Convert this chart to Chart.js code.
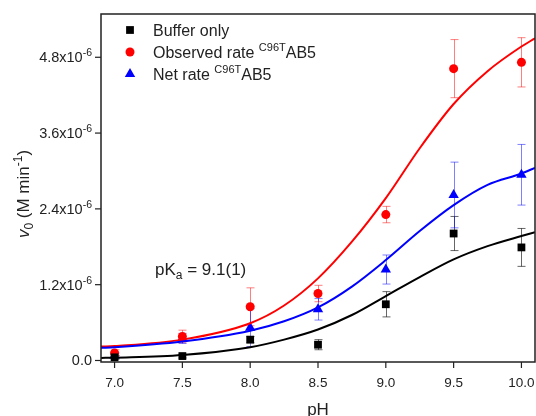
<!DOCTYPE html>
<html>
<head>
<meta charset="utf-8">
<script src="https://cdn.jsdelivr.net/npm/chart.js@4.4.1/dist/chart.umd.min.js"></script>
<style>
  html, body { margin: 0; padding: 0; background: #fff; }
  canvas { display: block; }
</style>
</head>
<body>
<canvas id="chart" width="536" height="416"></canvas>
<script>
// measured points (rates in units of 1e-6 M min^-1)
const phPoints = [7.0, 7.5, 8.0, 8.5, 9.0, 9.5, 10.0];
const bufferRate = [0.05, 0.07, 0.33, 0.25, 0.89, 2.01, 1.79];
const bufferErr = [0.03, 0.03, 0.05, 0.08, 0.20, 0.27, 0.30];
const observedRate = [0.12, 0.38, 0.85, 1.06, 2.31, 4.62, 4.72];
const observedErr = [0.05, 0.10, 0.30, 0.13, 0.13, 0.46, 0.39];
const netRate = [0.08, 0.35, 0.52, 0.81, 1.44, 2.62, 2.94];
const netErr = [0.04, 0.08, 0.30, 0.17, 0.23, 0.52, 0.48];

// fitted curves
const fitPh = [6.9, 7.0, 7.5, 8.0, 8.25, 8.5, 8.75, 9.0, 9.25, 9.5, 9.75, 10.0, 10.1];
const bufferFit = [0.04, 0.045, 0.087, 0.21, 0.33, 0.49, 0.72, 1.02, 1.32, 1.60, 1.81, 1.97, 2.03];
const observedFit = [0.22, 0.23, 0.33, 0.59, 0.87, 1.30, 1.88, 2.57, 3.36, 4.06, 4.58, 4.97, 5.10];
const netFit = [0.20, 0.21, 0.30, 0.47, 0.62, 0.84, 1.17, 1.59, 2.05, 2.46, 2.78, 2.96, 3.05];

// axis ticks
const xTicks = [7.0, 7.5, 8.0, 8.5, 9.0, 9.5, 10.0];
const xTickLabels = ['7.0', '7.5', '8.0', '8.5', '9.0', '9.5', '10.0'];
const yTicks = [0, 1.2, 2.4, 3.6, 4.8];
const yTickLabels = ['0.0', '1.2x10', '2.4x10', '3.6x10', '4.8x10'];

const FAMILY = 'Arial, "Liberation Sans", sans-serif';
const font = (size, style) => `${style || ''} ${size}px ${FAMILY}`;

const toXY = (xs, ys) => xs.map((x, i) => ({ x: x, y: ys[i] }));

// draws text made of pieces: [text, size, dy, style]
function drawRich(ctx, parts, x, y, align) {
    let total = 0;
    parts.forEach(p => { ctx.font = font(p[1], p[3]); total += ctx.measureText(p[0]).width; });
    let cx = x;
    if (align === 'right') cx = x - total;
    if (align === 'center') cx = x - total / 2;
    ctx.textAlign = 'left';
    ctx.textBaseline = 'alphabetic';
    parts.forEach(p => {
        ctx.font = font(p[1], p[3]);
        ctx.fillText(p[0], cx, y + (p[2] || 0));
        cx += ctx.measureText(p[0]).width;
    });
}

const errorSets = [
    { values: bufferRate, errs: bufferErr, color: 'rgba(0,0,0,0.6)' },
    { values: observedRate, errs: observedErr, color: 'rgba(255,0,0,0.5)' },
    { values: netRate, errs: netErr, color: 'rgba(0,0,255,0.5)' }
];

const errorBars = {
    id: 'errorBars',
    beforeDatasetsDraw(chart) {
        const ctx = chart.ctx;
        const xs = chart.scales.x, ys = chart.scales.y;
        ctx.save();
        ctx.lineWidth = 1;
        errorSets.forEach(set => {
            ctx.strokeStyle = set.color;
            phPoints.forEach((ph, i) => {
                const px = Math.round(xs.getPixelForValue(ph)) + 0.5;
                const top = ys.getPixelForValue(set.values[i] + set.errs[i]);
                const bot = ys.getPixelForValue(set.values[i] - set.errs[i]);
                ctx.beginPath();
                ctx.moveTo(px, top); ctx.lineTo(px, bot);
                ctx.moveTo(px - 4, top); ctx.lineTo(px + 4, top);
                ctx.moveTo(px - 4, bot); ctx.lineTo(px + 4, bot);
                ctx.stroke();
            });
        });
        ctx.restore();
    }
};

const frameAndText = {
    id: 'frameAndText',
    afterDraw(chart) {
        const ctx = chart.ctx;
        const a = chart.chartArea;
        const xs = chart.scales.x, ys = chart.scales.y;
        ctx.save();
        ctx.fillStyle = '#222';
        ctx.strokeStyle = '#222';

        // frame
        ctx.lineWidth = 1.5;
        ctx.strokeRect(a.left, a.top, a.right - a.left, a.bottom - a.top);

        // y ticks
        ctx.lineWidth = 1.2;
        yTicks.forEach((v, i) => {
            const py = ys.getPixelForValue(v);
            ctx.beginPath();
            ctx.moveTo(a.left - 6, py); ctx.lineTo(a.left, py);
            ctx.stroke();
            const parts = [[yTickLabels[i], 14.5, 0]];
            if (v !== 0) parts.push(['-6', 10.5, -6]);
            drawRich(ctx, parts, a.left - 9, py + 5, 'right');
        });

        // x ticks
        xTicks.forEach((v, i) => {
            const px = xs.getPixelForValue(v);
            ctx.beginPath();
            ctx.moveTo(px, a.bottom); ctx.lineTo(px, a.bottom + 6);
            ctx.stroke();
            drawRich(ctx, [[xTickLabels[i], 13.5, 0]], px, 387, 'center');
        });

        // axis titles
        drawRich(ctx, [['pH', 17, 0]], (a.left + a.right) / 2, 415, 'center');
        ctx.save();
        ctx.translate(29, 194);
        ctx.rotate(-Math.PI / 2);
        drawRich(ctx, [['v', 17, 0, 'italic'], ['0', 12, 4], [' (M min', 17, 0], ['-1', 12, -7], [')', 17, 0]], 0, 0, 'center');
        ctx.restore();

        // legend
        const legend = [
            { style: 'rect', color: '#000', radius: 5.5, text: [['Buffer only', 16, 0]] },
            { style: 'circle', color: '#ff0000', radius: 4.5, text: [['Observed rate ', 16, 0], ['C96T', 11, -7], ['AB5', 16, 0]] },
            { style: 'triangle', color: '#0000ff', radius: 6, text: [['Net rate ', 16, 0], ['C96T', 11, -7], ['AB5', 16, 0]] }
        ];
        legend.forEach((item, i) => {
            const cy = 30 + i * 22;
            ctx.fillStyle = item.color;
            ctx.strokeStyle = item.color;
            ctx.lineWidth = 0;
            Chart.helpers.drawPoint(ctx, { pointStyle: item.style, radius: item.radius, borderWidth: 0 }, 130, cy);
            ctx.fillStyle = '#222';
            drawRich(ctx, item.text, 153, cy + 6, 'left');
        });

        // pKa annotation
        ctx.fillStyle = '#222';
        drawRich(ctx, [['pK', 17, 0], ['a', 12, 4], [' = 9.1(1)', 17, 0]], 155, 275, 'left');
        ctx.restore();
    }
};

const fitStyle = { showLine: true, pointRadius: 0, borderWidth: 2, cubicInterpolationMode: 'monotone', fill: false };

new Chart(document.getElementById('chart'), {
    type: 'scatter',
    data: {
        datasets: [
            Object.assign({ data: toXY(fitPh, bufferFit), borderColor: '#000' }, fitStyle),
            Object.assign({ data: toXY(fitPh, netFit), borderColor: '#0000ff' }, fitStyle),
            Object.assign({ data: toXY(fitPh, observedFit), borderColor: '#ff0000' }, fitStyle),
            { data: toXY(phPoints, bufferRate), pointStyle: 'rect', pointRadius: 5.5, backgroundColor: '#000', borderWidth: 0 },
            { data: toXY(phPoints, observedRate), pointStyle: 'circle', pointRadius: 4.5, backgroundColor: '#ff0000', borderWidth: 0 },
            { data: toXY(phPoints, netRate), pointStyle: 'triangle', pointRadius: 6, backgroundColor: '#0000ff', borderWidth: 0 }
        ]
    },
    options: {
        responsive: false,
        animation: false,
        devicePixelRatio: 1,
        layout: { autoPadding: false, padding: { left: 101, top: 14, right: 1, bottom: 54 } },
        scales: {
            x: { type: 'linear', min: 6.9, max: 10.1, display: false },
            y: { type: 'linear', min: -0.024, max: 5.485, display: false }
        },
        plugins: {
            legend: { display: false },
            tooltip: { enabled: false }
        }
    },
    plugins: [errorBars, frameAndText]
});
</script>
</body>
</html>
